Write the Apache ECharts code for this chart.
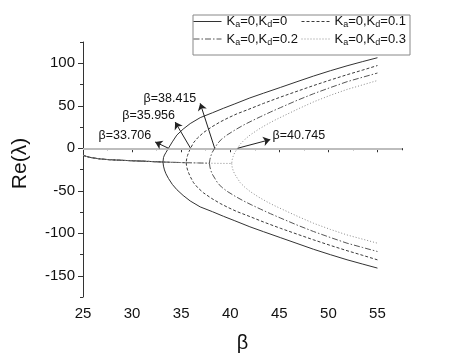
<!DOCTYPE html>
<html>
<head>
<meta charset="utf-8">
<script src="https://cdn.jsdelivr.net/npm/echarts@6/dist/echarts.min.js"></script>
<style>html,body{margin:0;padding:0;background:#fff}#c{width:468px;height:357px}</style>
</head>
<body>
<div id="c"></div>
<script>
// ---- data ----
const seriesNames = ['Ka=0,Kd=0', 'Ka=0,Kd=0.1', 'Ka=0,Kd=0.2', 'Ka=0,Kd=0.3'];
const xTickValues = [25, 30, 35, 40, 45, 50, 55];
const xMinorTickValues = [27.5, 32.5, 37.5, 42.5, 47.5, 52.5, 57.5];
const yTickValues = [-150, -100, -50, 0, 50, 100];
const yMinorTickValues = [-175, -125, -75, -25, 25, 75, 125];

// common single-valued part (before the split), beta vs Re(lambda)
const preSplit = [[25,-8.2],[25.3,-9.5],[25.7,-10.7],[26.2,-11.7],[26.8,-12.6],[27.6,-13.4],[28.6,-14],[30,-14.7],[31.3,-15.3],[32.3,-15.8],[33.15,-16.2],[34.3,-16.6],[35.51,-17.0],[36.7,-17.3],[37.88,-17.6],[39,-17.8],[40.15,-17.9]];

// Ka=0,Kd=0
const upper0 = [[33.15,-16.2],[33.2,-11],[33.3,-8],[33.45,-5],[33.706,0],[34.1,7.5],[34.56,15.5],[35.2,22.5],[35.92,29],[36.94,36],[38.2,41.8],[39.3,47],[40.4,51.9],[42,59.2],[43.4,64.8],[45.1,71.5],[46.8,78.3],[48.5,85],[50.2,91.2],[51.9,97],[53.5,102],[55,106.5]];
const lower0 = [[33.15,-16.2],[33.2,-21],[33.3,-25.5],[33.45,-30],[33.706,-35.5],[34.1,-42.5],[34.56,-48.7],[35.2,-55.5],[35.92,-62],[36.94,-69],[38.2,-74.7],[39.3,-80],[40.4,-85],[42,-92.4],[43.4,-98.2],[45.1,-105.1],[46.8,-112],[48.5,-118.9],[50.2,-125.2],[51.9,-131.2],[53.5,-136.3],[55,-141]];
// Ka=0,Kd=0.1
const upper1 = [[35.51,-17],[35.56,-12.5],[35.65,-8.5],[35.78,-4.5],[35.956,0],[36.26,6.5],[36.7,12.5],[37.28,18.5],[38.1,25],[38.98,31],[39.8,35.8],[40.68,40.5],[41.7,45],[43.4,52.8],[45.1,60.1],[46.8,67],[48.5,73.8],[50.2,80.3],[51.9,86.5],[53.5,92],[55,97.3]];
const lower1 = [[35.51,-17],[35.56,-21.5],[35.65,-25.5],[35.78,-29.5],[35.956,-34],[36.26,-40.5],[36.7,-46.5],[37.28,-52.5],[38.1,-59],[38.98,-65],[39.8,-69.8],[40.68,-74.5],[41.7,-79],[43.4,-86.8],[45.1,-94.1],[46.8,-101],[48.5,-107.8],[50.2,-114.3],[51.9,-120.5],[53.5,-126],[55,-131.3]];
// Ka=0,Kd=0.2
const upper2 = [[37.88,-17.6],[37.93,-13.2],[38.02,-9.2],[38.15,-5.2],[38.415,0],[38.7,5.4],[39.1,10.5],[39.66,15.5],[40.5,21.6],[41.36,27.3],[42.2,32.2],[43.06,37],[44.1,42.6],[45.1,47.7],[46.8,56.3],[48.5,64.2],[50.2,71.4],[51.9,78.3],[53.5,83.6],[55,88.5]];
const lower2 = [[37.88,-17.6],[37.93,-22],[38.02,-26],[38.15,-30],[38.415,-35.1],[38.7,-40.5],[39.1,-45.5],[39.66,-50.5],[40.5,-56.5],[41.36,-62],[42.2,-66.8],[43.06,-71.5],[44.1,-77],[45.1,-82],[46.8,-90.3],[48.5,-98],[50.2,-105],[51.9,-111.7],[53.5,-116.8],[55,-121.5]];
// Ka=0,Kd=0.3
const upper3 = [[40.15,-17.9],[40.2,-13.5],[40.3,-9.5],[40.45,-5.4],[40.745,0],[41.02,4.9],[41.5,10.5],[42.04,15.7],[42.9,22.4],[43.74,28.1],[44.5,32.8],[45.3,37.3],[46.9,46.2],[48.5,54.6],[50.2,62.3],[51.9,69.2],[53.5,74.6],[55,79.7]];
const lower3 = [[40.15,-17.9],[40.2,-22.3],[40.3,-26.3],[40.45,-30.3],[40.745,-35.65],[41.02,-40.5],[41.5,-46],[42.04,-51],[42.9,-57.5],[43.74,-63],[44.5,-67.5],[45.3,-71.8],[46.9,-80.3],[48.5,-88.3],[50.2,-95.5],[51.9,-102],[53.5,-107],[55,-111.7]];

// annotations: critical beta values (arrow tails at Re=0), arrow heads, text anchors
const critBeta = [33.706, 35.956, 38.415, 40.745];
const critLabels = ['β=33.706', 'β=35.956', 'β=38.415', 'β=40.745'];
const arrowHeadBeta = [32.35, 34.39, 36.94, 44.08];
const arrowHeadRe = [7.4, 30.8, 52.8, 10.2];
const labelBeta = [26.53, 28.95, 31.12, 44.26];
const labelRe = [15.2, 37.9, 59, 15.2];

// ---- chart ----
const FONT = '"Liberation Sans", Arial, sans-serif';
const uppers = [upper0, upper1, upper2, upper3];
const lowers = [lower0, lower1, lower2, lower3];
const colors = ['#333333', '#3a3a3a', '#555555', '#8a8a8a'];
const dashTypes = ['solid', [3, 2], [6, 2, 1.5, 2], [1, 2]];

const series = [];
seriesNames.forEach((name, i) => {
  const split = uppers[i][0][0];
  const up = preSplit.filter(p => p[0] < split).concat(uppers[i]);
  const common = {
    name: name, type: 'line', symbol: 'none', showSymbol: false,
    smooth: false, animation: false, z: 3 + i,
    lineStyle: { color: colors[i], width: 1, type: dashTypes[i] },
    itemStyle: { color: colors[i] }
  };
  series.push(Object.assign({}, common, { data: up }));
  series.push(Object.assign({}, common, { data: lowers[i] }));
});

series.push({
  name: 'zero', type: 'line', data: [], z: 1, silent: true, animation: false,
  markLine: {
    silent: true, symbol: ['none', 'none'], animation: false,
    label: { show: false },
    lineStyle: { color: '#bdbdbd', width: 2, type: 'solid' },
    data: [{ yAxis: 0 }]
  }
});

series.push({
  name: 'annot', type: 'line', data: [], z: 10, silent: true, animation: false,
  markLine: {
    silent: true, symbol: ['none', 'arrow'], symbolSize: 7, animation: false,
    label: { show: false },
    lineStyle: { color: '#222', width: 1, type: 'solid' },
    data: critBeta.map((b, i) => [
      { coord: [b, 0] },
      { coord: [arrowHeadBeta[i], arrowHeadRe[i]] }
    ])
  },
  markPoint: {
    silent: true, animation: false, symbol: 'rect', symbolSize: 1,
    itemStyle: { color: 'rgba(0,0,0,0)' },
    label: {
      show: true, position: 'right', distance: 0, formatter: '{b}',
      color: '#111', fontSize: 12.5, fontFamily: FONT
    },
    data: critLabels.map((t, i) => ({ name: t, coord: [labelBeta[i], labelRe[i]] }))
  }
});

function legendFmt(name) {
  const kd = name.split('Kd=')[1];
  return '{n|K}{s|a}{n|=0,K}{s|d}{n|=' + kd + '}';
}
const legendText = {
  rich: {
    n: { fontSize: 13, fontFamily: FONT, color: '#111', lineHeight: 16 },
    s: { fontSize: 9, fontFamily: FONT, color: '#111', lineHeight: 9, verticalAlign: 'bottom' }
  }
};
const legendBase = {
  orient: 'vertical', top: 15, itemWidth: 28, itemHeight: 14, itemGap: 3,
  padding: 0, formatter: legendFmt, textStyle: legendText, selectedMode: false,
  itemStyle: { color: 'rgba(0,0,0,0)', borderWidth: 0, opacity: 0 },
  lineStyle: { width: 1 }
};

const chart = echarts.init(document.getElementById('c'), null, { renderer: 'canvas' });
chart.setOption({
  animation: false,
  backgroundColor: '#fff',
  grid: { left: 83, right: 66, top: 42, bottom: 60, containLabel: false, outerBoundsMode: 'none' },
  legend: [
    Object.assign({}, legendBase, { left: 193, data: [seriesNames[0], seriesNames[2]] }),
    Object.assign({}, legendBase, { left: 301, data: [seriesNames[1], seriesNames[3]] })
  ],
  graphic: [{
    type: 'rect', left: 190.5, top: 12.5, silent: true,
    shape: { width: 217, height: 40 },
    style: { fill: 'none', stroke: '#888', lineWidth: 1 }
  }],
  xAxis: [{
    type: 'value', min: 25, max: 57.5, interval: 5,
    name: 'β', nameLocation: 'middle', nameGap: 36,
    nameTextStyle: { fontSize: 20, fontFamily: FONT, color: '#111' },
    axisLine: { show: true, lineStyle: { color: '#333', width: 1 } },
    axisTick: { show: true, length: 4, customValues: xTickValues, lineStyle: { color: '#333' } },
    axisLabel: { customValues: xTickValues, margin: 9, fontSize: 15, fontFamily: FONT, color: '#111' },
    splitLine: { show: false }
  }, {
    type: 'value', min: 25, max: 57.5, interval: 5, position: 'bottom',
    axisLine: { show: false },
    axisTick: { show: true, length: 2, customValues: xMinorTickValues, lineStyle: { color: '#333' } },
    axisLabel: { show: false }, splitLine: { show: false }
  }],
  yAxis: [{
    type: 'value', min: -175, max: 125, interval: 25,
    name: 'Re(λ)', nameLocation: 'middle', nameGap: 52, nameRotate: 90,
    nameTextStyle: { fontSize: 21, fontFamily: FONT, color: '#111', padding: [0, 0, 0, 12] },
    axisLine: { show: true, lineStyle: { color: '#333', width: 1 } },
    axisTick: { show: true, length: 5, customValues: yTickValues, lineStyle: { color: '#333' } },
    axisLabel: { customValues: yTickValues, margin: 8, fontSize: 15, fontFamily: FONT, color: '#111' },
    splitLine: { show: false }
  }, {
    type: 'value', min: -175, max: 125, interval: 25, position: 'left',
    axisLine: { show: false },
    axisTick: { show: true, length: 3, customValues: yMinorTickValues, lineStyle: { color: '#333' } },
    axisLabel: { show: false }, splitLine: { show: false }
  }],
  series: series
});
</script>
</body>
</html>
